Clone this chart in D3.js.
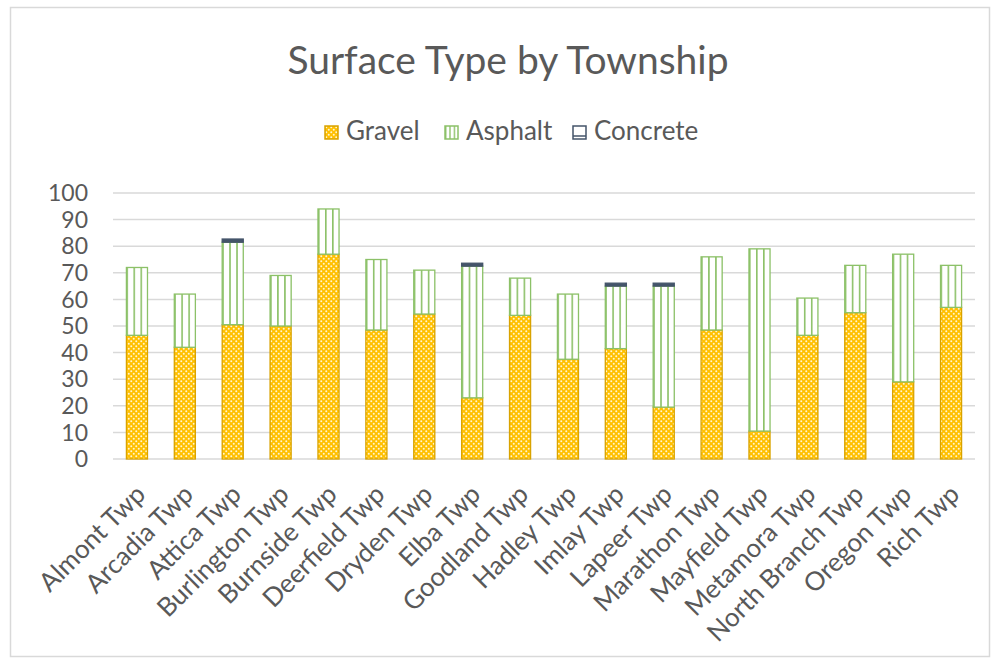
<!DOCTYPE html>
<html>
<head>
<meta charset="utf-8">
<script src="https://cdn.jsdelivr.net/npm/d3@7"></script>
<style>
  body { margin: 0; background: #fff; }
  svg text { font-family: Lato, "Open Sans", sans-serif; fill: #595959; }
</style>
</head>
<body>
<svg id="svgChart"></svg>
<script>
// [ --- Data
var townships = ["Almont Twp", "Arcadia Twp", "Attica Twp", "Burlington Twp", "Burnside Twp",
  "Deerfield Twp", "Dryden Twp", "Elba Twp", "Goodland Twp", "Hadley Twp", "Imlay Twp",
  "Lapeer Twp", "Marathon Twp", "Mayfield Twp", "Metamora Twp", "North Branch Twp",
  "Oregon Twp", "Rich Twp"];
var gravel   = [46.5, 42, 50.5, 50, 77, 48.5, 54.5, 23, 54, 37.5, 41.5, 19.5, 48.5, 10.5, 46.5, 55, 29, 57];
var asphalt  = [25.5, 20, 31, 19, 17, 26.5, 16.5, 49.5, 14, 24.5, 23.5, 45.5, 27.5, 68.5, 14, 17.8, 48, 15.8];
var concrete = [0, 0, 1.2, 0, 0, 0, 0, 1.1, 0, 0, 1.1, 1.1, 0, 0, 0, 0, 0, 0];
var seriesNames = ["Gravel", "Asphalt", "Concrete"];
var yTicks = [0, 10, 20, 30, 40, 50, 60, 70, 80, 90, 100];
// Data ---]

var width = 999;
var height = 665;
var margin = {left: 113, right: 24, top: 193, bottom: 206};

var rows = townships.map(function(t, i){
  return {township: t, Gravel: gravel[i], Asphalt: asphalt[i], Concrete: concrete[i]};
});

var stacked = d3.stack().keys(seriesNames)(rows);

var xScale = d3.scaleBand()
                .domain(townships)
                .range([margin.left, width - margin.right])
                .paddingInner(0.56)
                .paddingOuter(0.28);

var yScale = d3.scaleLinear()
                .domain([0, 100])
                .range([height - margin.bottom, margin.top]);

var svg = d3.select("#svgChart")
              .attr("width", width)
              .attr("height", height);

// patterns
var defs = svg.append("defs");

var dots = defs.append("pattern")
    .attr("id", "gravelPattern")
    .attr("patternUnits", "userSpaceOnUse")
    .attr("width", 5)
    .attr("height", 5);
dots.append("rect")
    .attr("width", 5).attr("height", 5)
    .attr("fill", "#FFC000");
dots.append("circle").attr("cx", 1.25).attr("cy", 1.25).attr("r", 1).attr("fill", "#FFF5D0");
dots.append("circle").attr("cx", 3.75).attr("cy", 3.75).attr("r", 1).attr("fill", "#FFF5D0");

var stripes = defs.append("pattern")
    .attr("id", "asphaltPattern")
    .attr("patternUnits", "objectBoundingBox")
    .attr("width", 1/3)
    .attr("height", 1);
stripes.append("rect")
    .attr("width", 1000).attr("height", 1000)
    .attr("fill", "#fff");
stripes.append("rect")
    .attr("width", 1.6).attr("height", 1000)
    .attr("fill", "#8CC168");

var legendStripes = defs.append("pattern")
    .attr("id", "asphaltLegend")
    .attr("patternUnits", "objectBoundingBox")
    .attr("width", 1/3)
    .attr("height", 1);
legendStripes.append("rect").attr("width", 100).attr("height", 100).attr("fill", "#fff");
legendStripes.append("rect").attr("width", 1.4).attr("height", 100).attr("fill", "#8CC168");

var fills = {Gravel: "url(#gravelPattern)", Asphalt: "url(#asphaltPattern)", Concrete: "#44546A"};
var strokes = {Gravel: "#D9A300", Asphalt: "#8CC168", Concrete: "#44546A"};

// outer frame
svg.append("rect")
    .attr("x", 10.5)
    .attr("y", 7.5)
    .attr("width", 979)
    .attr("height", 649)
    .attr("fill", "none")
    .attr("stroke", "#D9D9D9")
    .attr("stroke-width", 1.5);

// gridlines
svg.append("g")
    .selectAll("line")
    .data(yTicks)
    .enter()
    .append("line")
      .attr("x1", margin.left)
      .attr("x2", width - margin.right)
      .attr("y1", d => yScale(d))
      .attr("y2", d => yScale(d))
      .attr("stroke", "#D9D9D9")
      .attr("stroke-width", 1.5);

// y labels
svg.append("g")
    .selectAll("text")
    .data(yTicks)
    .enter()
    .append("text")
      .attr("x", 88)
      .attr("y", d => yScale(d))
      .attr("dy", "0.36em")
      .style("text-anchor", "end")
      .style("font-size", "23px")
      .text(d => d);

// bars
svg.append("g")
    .selectAll("g")
    .data(stacked)
    .enter()
    .append("g")
    .each(function(series){
      d3.select(this)
        .selectAll("rect")
        .data(series.filter(d => d[1] - d[0] > 0))
        .enter()
        .append("rect")
          .attr("x", d => xScale(d.data.township))
          .attr("y", d => yScale(d[1]))
          .attr("width", xScale.bandwidth())
          .attr("height", d => yScale(d[0]) - yScale(d[1]))
          .attr("fill", fills[series.key])
          .attr("stroke", strokes[series.key])
          .attr("stroke-width", 1.3);
    });

// concrete legend swatch has a dark bottom bar
// x labels
svg.append("g")
    .selectAll("text")
    .data(townships)
    .enter()
    .append("text")
      .attr("transform", d => "translate(" + (xScale(d) + xScale.bandwidth()/2 + 10) + "," + 496 + ") rotate(-45)")
      .style("text-anchor", "end")
      .style("font-size", "26px")
      .text(d => d);

// title
svg.append("text")
    .attr("x", 508)
    .attr("y", 74)
    .style("text-anchor", "middle")
    .style("font-size", "39px")
    .text("Surface Type by Township");

// legend
var legendX = [325, 445, 573];
var legendFills = {Gravel: "url(#gravelPattern)", Asphalt: "url(#asphaltLegend)", Concrete: "#fff"};
var legend = svg.append("g")
    .selectAll("g")
    .data(seriesNames)
    .enter()
    .append("g")
      .attr("transform", (d, i) => "translate(" + legendX[i] + ",126)");

legend.append("rect")
    .attr("width", 13)
    .attr("height", 13)
    .attr("fill", d => legendFills[d])
    .attr("stroke", d => strokes[d])
    .attr("stroke-width", 1.5);

legend.filter(d => d === "Concrete")
  .append("line")
    .attr("x1", 0).attr("x2", 13)
    .attr("y1", 10).attr("y2", 10)
    .attr("stroke", "#44546A")
    .attr("stroke-width", 1.5);

legend.append("text")
    .attr("x", 21)
    .attr("y", 14)
    .style("font-size", "26px")
    .text(d => d);
</script>
</body>
</html>
